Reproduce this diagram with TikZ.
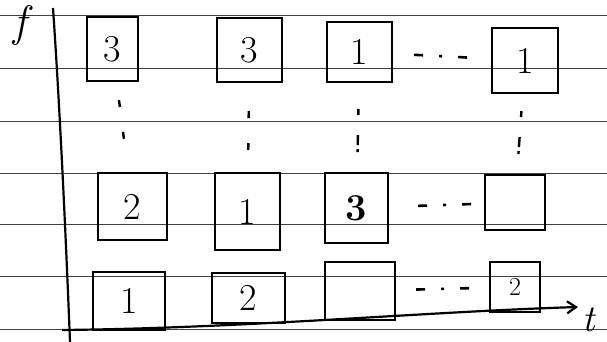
\documentclass[tikz,border=0pt]{standalone}
\usepackage{tikz}
\usetikzlibrary{arrows.meta}
\tikzset{
  cell/.style={rectangle,draw=black,line width=2.4pt,inner sep=0pt,
    font=\fontsize{38}{38}\selectfont},
  cellb/.style={cell,font=\fontsize{38}{38}\selectfont\bfseries},
  rule/.style={line width=0.7pt,draw=black!75},
  ax/.style={line width=2.2pt,draw=black},
  dotsh/.style={line width=2.6pt,dash pattern=on 9pt off 16pt on 3pt off 16pt on 9pt off 40pt},
  vdots2/.style={line width=2.4pt,dash pattern=on 7pt off 25pt on 7pt off 80pt},
  vdots3/.style={line width=2.4pt,dash pattern=on 6pt off 20pt on 10pt off 4pt on 3pt off 80pt},
  lbl/.style={font=\fontsize{44}{44}\selectfont\itshape,inner sep=1pt},
}
\begin{document}
\begin{tikzpicture}[x=1pt,y=-1pt]
  \fill[white] (0,0) rectangle (607,342);
  \useasboundingbox (0,0) rectangle (607,342);
  % ruled paper
  \foreach \y in {15,68,121,173,224,276,329}
    \draw[rule] (0,\y) -- (607,\y);
  % top row
  \node[cell,minimum width=51,minimum height=64] (c11) at (112.5,49) {3};
  \node[cell,minimum width=65,minimum height=64] (c12) at (249.5,50) {3};
  \node[cell,minimum width=65,minimum height=60] (c13) at (359.5,52) {1};
  \node[cell,minimum width=66,minimum height=65] (c14) at (525,60.5) {1};
  % middle row
  \node[cell,minimum width=69,minimum height=67] (c21) at (132.5,206.5) {2};
  \node[cell,minimum width=65,minimum height=77] (c22) at (247.5,211.5) {1};
  \node[cellb,minimum width=63,minimum height=70] (c23) at (356.5,208) {3};
  \node[cell,minimum width=60,minimum height=55] (c24) at (515,202.5) {};
  % bottom row
  \node[cell,minimum width=72,minimum height=58] (c31) at (129,301) {1};
  \node[cell,minimum width=73,minimum height=50] (c32) at (248.5,298) {2};
  \node[cell,minimum width=70,minimum height=58] (c33) at (360,291) {};
  \node[cell,minimum width=50,minimum height=50,font=\fontsize{26}{26}\selectfont] (c34) at (515,287) {2};
  % gaps
  \draw[dotsh,shorten <=21pt] (c13) -- (c14);
  \draw[dotsh,shorten <=29pt] (c23) -- (c24);
  \draw[dotsh,shorten <=20pt] (c33) -- (c34);
  \draw[vdots2,shorten <=18pt] (c11) -- (c21);
  \draw[vdots2,shorten <=28pt] (c12) -- (c22);
  \draw[vdots3,shorten <=26pt] (c13) -- (c23);
  \draw[vdots3,shorten <=17pt] (c14) -- (c24);
  % axes
  \coordinate (ftop) at (53,8);
  \coordinate (fbot) at (70,342);
  \coordinate (tstart) at (62,330);
  \coordinate (tend) at (578,307);
  \draw[ax] (ftop) .. controls (60,110) and (66,240) .. (fbot);
  \draw[ax,-{Straight Barb[length=9pt,width=12pt]}] (tstart) .. controls (250,328) and (420,312) .. (tend);
  \node[lbl] (flbl) at (20,26) {f};
  \node[lbl,font=\fontsize{38}{38}\selectfont\itshape] (tlbl) at (589,320) {t};
\end{tikzpicture}
\end{document}
